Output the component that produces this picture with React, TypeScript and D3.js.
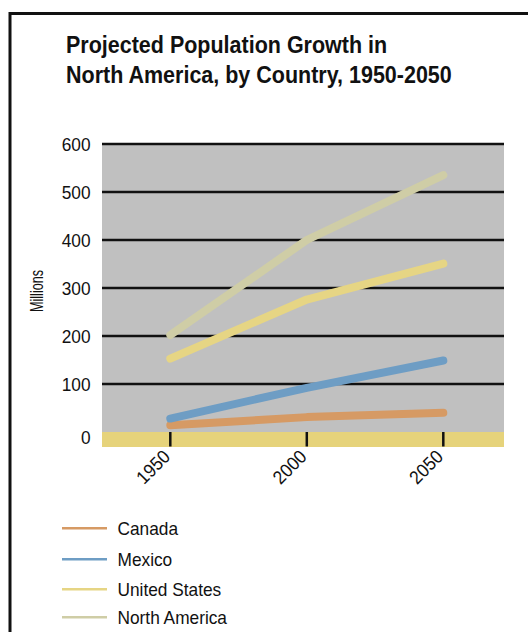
import React from "react";
import * as d3 from "d3";

const years = [1950, 2000, 2050];
const yTicks = [0, 100, 200, 300, 400, 500, 600];
const seriesNames = ["Canada", "Mexico", "United States", "North America"];
const canada = [14, 31, 40];
const mexico = [28, 92, 149];
const unitedStates = [153, 276, 351];
const northAmerica = [202, 400, 535];
const colors = ["#D69A64", "#6E9DC4", "#E6D584", "#CFCDA6"];
const titleLines = ["Projected Population Growth in", "North America, by Country, 1950-2050"];

const FONT = "'Liberation Sans', Arial, Helvetica, sans-serif";

export default function App() {
  const x = d3.scaleLinear().domain([1950, 2050]).range([170.3, 443.3]);
  const y = d3.scaleLinear().domain([0, 600]).range([432, 144]);
  const plotL = 102;
  const plotR = 504;
  const series = [canada, mexico, unitedStates, northAmerica];
  const line = d3
    .line<number>()
    .x((_, i) => x(years[i]))
    .y((d) => y(d));

  return (
    <svg
      width={528}
      height={632}
      style={{ position: "absolute", left: 0, top: 0, background: "#fff" }}
      fontFamily={FONT}
    >
      <rect x={0} y={0} width={528} height={632} fill="#fff" />
      <rect x={10} y={13.5} width={700} height={700} fill="none" stroke="#111" strokeWidth={3} />

      {titleLines.map((t, i) => (
        <text
          key={t}
          transform={`translate(66, ${53 + i * 29.5}) scale(0.935,1)`}
          fontSize={23}
          fontWeight="bold"
          fill="#111"
        >
          {t}
        </text>
      ))}

      {/* plot background */}
      <rect x={plotL} y={y(600)} width={plotR - plotL} height={y(0) - y(600)} fill="#C0C0C0" />
      <rect x={plotL} y={y(0)} width={plotR - plotL} height={15} fill="#E6D37B" />

      {/* gridlines */}
      {yTicks
        .filter((t) => t > 0)
        .map((t) => (
          <line key={t} x1={plotL} x2={plotR} y1={y(t)} y2={y(t)} stroke="#111" strokeWidth={2.5} />
        ))}

      {/* y tick labels */}
      {yTicks.map((t) => (
        <text
          key={t}
          transform={`translate(90.5, ${t === 0 ? 444 : y(t) + 6.8}) scale(0.92,1)`}
          textAnchor="end"
          fontSize={18.8}
          fill="#111"
        >
          {t}
        </text>
      ))}

      {/* x ticks */}
      {years.map((yr) => (
        <g key={yr}>
          <line x1={x(yr)} x2={x(yr)} y1={y(0)} y2={y(0) + 14.5} stroke="#111" strokeWidth={2.5} />
          <text
            transform={`translate(${x(yr) + 1}, 458) rotate(-45) scale(0.92,1)`}
            textAnchor="end"
            fontSize={18.8}
            fill="#111"
          >
            {yr}
          </text>
        </g>
      ))}

      {/* y axis title */}
      <text
        transform="translate(43, 291) rotate(-90)"
        textAnchor="middle"
        fontSize={18.5}
        textLength={42}
        lengthAdjust="spacingAndGlyphs"
        fill="#111"
      >
        Millions
      </text>

      {/* series lines */}
      {series.map((s, i) => (
        <path
          key={seriesNames[i]}
          d={line(s) || ""}
          fill="none"
          stroke={colors[i]}
          strokeWidth={8}
          strokeLinecap="round"
          strokeLinejoin="round"
        />
      ))}

      {/* legend */}
      {seriesNames.map((n, i) => {
        const ly = [528.3, 559.3, 589.3, 617.3][i];
        return (
          <g key={n}>
            <line x1={62} x2={107} y1={ly} y2={ly} stroke={colors[i]} strokeWidth={2.5} />
            <text
              transform={`translate(117.5, ${ly + 6.8}) scale(0.92,1)`}
              fontSize={18.8}
              fill="#111"
            >
              {n}
            </text>
          </g>
        );
      })}
    </svg>
  );
}
